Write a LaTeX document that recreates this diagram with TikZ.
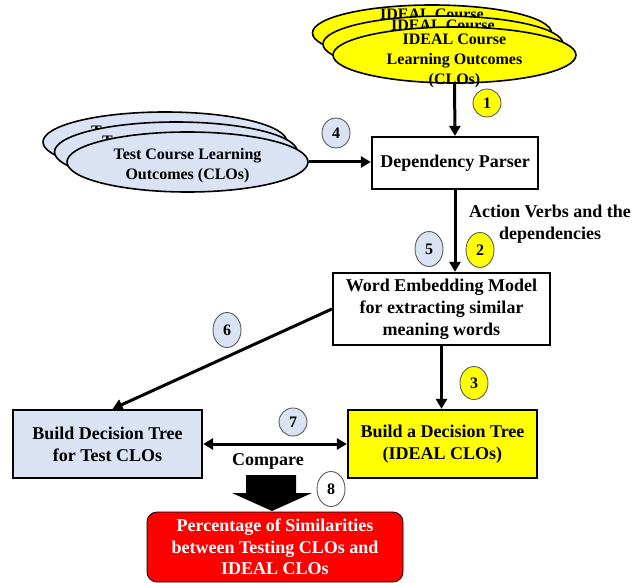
\documentclass[tikz,border=0pt]{standalone}
\usepackage{fontspec}
\setmainfont{Liberation Serif}
\usepackage{xcolor}
\usetikzlibrary{arrows.meta,shapes.geometric}
\definecolor{idealyellow}{rgb}{1,1,0}
\definecolor{testblue}{RGB}{218,227,243}
\definecolor{simred}{rgb}{1,0,0}
\definecolor{numline}{RGB}{90,90,90}

\begin{document}
\begin{tikzpicture}[x=1pt,y=-1pt,
  flow/.style={line width=3pt,-{Triangle[length=10pt,width=11pt]}},
  box/.style={draw,line width=2.2pt,inner sep=0pt,align=center,font=\bfseries\fontsize{18}{22}\selectfont},
  clo/.style={ellipse,draw,line width=1.6pt,inner sep=0pt},
  clotext/.style={align=center,inner sep=0pt,font=\bfseries\fontsize{16}{20}\selectfont},
  num/.style={ellipse,draw=numline,line width=0.9pt,minimum width=28pt,minimum height=35pt,inner sep=0pt,font=\bfseries\fontsize{16}{16}\selectfont}]
\useasboundingbox (0,0) rectangle (640,583);

% IDEAL CLOs stack
\node [clo,fill=idealyellow,minimum width=239pt,minimum height=56pt] (ideala) at (432,33) {};
\node [clotext] (idealtxta) at ([yshift=-3pt]ideala.center) {IDEAL Course\\Learning Outcomes\\(CLOs)};
\node [clo,fill=idealyellow,minimum width=240pt,minimum height=56pt] (idealb) at (443,44) {};
\node [clotext] (idealtxtb) at ([yshift=-3pt]idealb.center) {IDEAL Course\\Learning Outcomes\\(CLOs)};
\node [clo,fill=idealyellow,minimum width=243pt,minimum height=56pt] (idealc) at (454.5,55) {};
\node [clotext] (idealtxtc) at ([yshift=-6pt]idealc.center) {IDEAL Course\\Learning Outcomes\\(CLOs)};

% Test CLOs stack
\node [clo,fill=testblue,minimum width=244pt,minimum height=60pt] (testa) at (165,142) {};
\node [clotext] (testtxta) at ([yshift=-1pt]testa.center) {Test Course Learning\\Outcomes (CLOs)};
\node [clo,fill=testblue,minimum width=243pt,minimum height=60pt] (testb) at (176,152) {};
\node [clotext] (testtxtb) at ([yshift=-1pt]testb.center) {Test Course Learning\\Outcomes (CLOs)};
\node [clo,fill=testblue,minimum width=241pt,minimum height=60pt] (testc) at (187.5,162) {};
\node [clotext] (testtxtc) at ([yshift=-4pt]testc.center) {Test Course Learning\\Outcomes (CLOs)};

% boxes
\node [box,minimum width=166pt,minimum height=52pt] (parser) at (455,163) {Dependency Parser};
\node [box,minimum width=217pt,minimum height=72pt] (embed) at (441.5,309) {Word Embedding Model\\for extracting similar\\meaning words};
\node [box,fill=testblue,minimum width=189pt,minimum height=68pt] (testdt) at (107.5,444) {Build Decision Tree\\for Test CLOs};
\node [box,fill=idealyellow,minimum width=189pt,minimum height=68pt] (idealdt) at (442.5,444) {Build a Decision Tree\\(IDEAL CLOs)};
\node [draw,line width=0.8pt,fill=simred,rounded corners=10pt,text=white,inner sep=0pt,align=center,
  font=\bfseries\fontsize{18}{21.5}\selectfont,minimum width=256pt,minimum height=70pt] (simil) at (275,547)
  {Percentage of Similarities\\between Testing CLOs and\\IDEAL CLOs};

% connectors
\draw [flow] (idealc.south) -- (parser.north);
\draw [flow] (testc.east) -- (testc.east -| parser.west);
\draw [flow] (parser.south) -- (parser.south |- embed.north);
\draw [flow] (embed.west) -- ([xshift=5pt]testdt.north);
\draw [flow] (embed.south) -- (embed.south |- idealdt.north);
\draw [line width=3pt,{Triangle[length=10pt,width=11pt]}-{Triangle[length=10pt,width=11pt]}] (testdt.east) -- (idealdt.west);

\node [box,draw=none,fill=white,minimum width=95pt,minimum height=17pt] (compare) at (268,461) {Compare};
\node [box,draw=none] (verbs) at (550,224) {Action Verbs and the\\dependencies};

% big arrow to the result
\fill (246,475) -- (296,475) -- (296,493) -- (312,493) -- (272,511) -- (232,493) -- (246,493) -- cycle;

% step numbers
\node [num,fill=idealyellow,minimum height=28pt] (n1) at (487,103) {1};
\node [num,fill=idealyellow] (n2) at (480,250) {2};
\node [num,fill=idealyellow,minimum height=33pt] (n3) at (474,383) {3};
\node [num,fill=testblue,minimum height=30pt] (n4) at (336,133) {4};
\node [num,fill=testblue] (n5) at (429,249) {5};
\node [num,fill=testblue] (n6) at (227,330) {6};
\node [num,fill=testblue,minimum height=28pt] (n7) at (293,422) {7};
\node [num,fill=white] (n8) at (331,489) {8};
\end{tikzpicture}
\end{document}
